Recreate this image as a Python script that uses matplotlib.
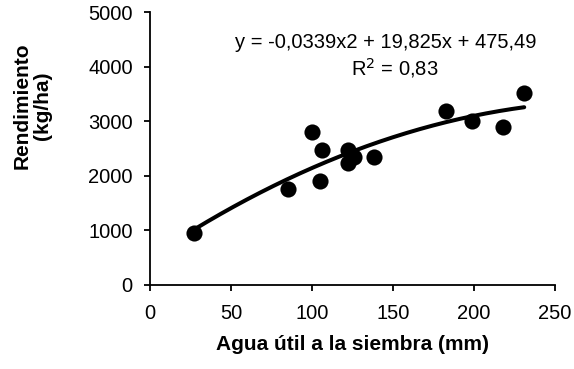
import matplotlib.pyplot as plt
import numpy as np

plt.rcParams['font.family'] = ['Liberation Sans', 'DejaVu Sans']

# Agua util a la siembra (mm) vs rendimiento (kg/ha)
agua = [27, 85, 100, 106, 105, 122, 122, 126, 138, 183, 199, 218, 231]
rendimiento = [950, 1760, 2800, 2480, 1910, 2480, 2240, 2350, 2340, 3190, 3010, 2890, 3520]

ecuacion = 'y = -0,0339x2 + 19,825x + 475,49'
r2_texto = 'R$^2$ = 0,83'

fig = plt.figure(figsize=(5.74, 3.69), dpi=100)
ax = fig.add_axes([150 / 574, (369 - 285) / 369, 405 / 574, 273 / 369])

# linea de tendencia (polinomica de orden 2)
coef = np.polyfit(agua, rendimiento, 2)
xs = np.linspace(min(agua), max(agua), 200)
ax.plot(xs, np.polyval(coef, xs), color='black', lw=2.9, solid_capstyle='round')
ax.scatter(agua, rendimiento, s=135, color='black', zorder=3, linewidths=0)

ax.set_xlim(0, 250)
ax.set_ylim(0, 5000)
ax.set_xticks(np.arange(0, 251, 50))
ax.set_yticks(np.arange(0, 5001, 1000))
ax.spines['top'].set_visible(False)
ax.spines['right'].set_visible(False)
for s in ['left', 'bottom']:
    ax.spines[s].set_linewidth(1.3)
ax.tick_params(direction='out', length=4.5, width=1.3, labelsize=14.5)
ax.tick_params(axis='x', pad=9)
ax.tick_params(axis='y', pad=8)

ax.set_xlabel('Agua útil a la siembra (mm)', fontsize=15, fontweight='bold', labelpad=9)
ax.text(-0.29, 0.655, 'Rendimiento\n(kg/ha)', transform=ax.transAxes, rotation=90,
        ha='center', va='center', fontsize=15, fontweight='bold', linespacing=1.1)

ax.text(52.5, 4450, ecuacion, ha='left', va='center', fontsize=14.5)
ax.text(151, 3970, r2_texto, ha='center', va='center', fontsize=14.5)

fig.savefig('out.png', dpi=100)
